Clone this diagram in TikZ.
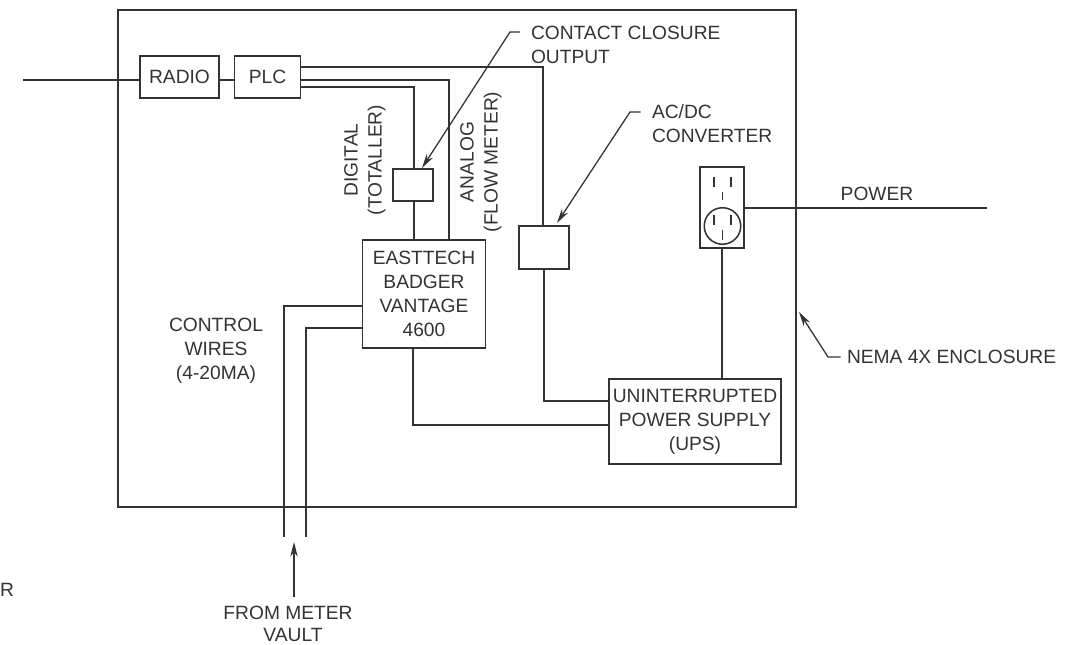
\documentclass[tikz,border=0pt]{standalone}
\usepackage{fontspec}
\setmainfont{Liberation Sans}
\usetikzlibrary{arrows.meta}
\definecolor{ink}{HTML}{333333}
\tikzset{
  x=0.75pt,y=-0.75pt,
  wire/.style={draw=ink,line width=1.15pt,line join=miter},
  thin wire/.style={draw=ink,line width=0.9pt},
  box/.style={draw=ink,line width=1.15pt,inner sep=0pt,outer sep=0pt,align=center,text=ink,
    font=\fontsize{14.4}{18}\selectfont},
  lbl/.style={inner sep=0pt,outer sep=0pt,text=ink,font=\fontsize{14.4}{18}\selectfont},
  pointer/.style={draw=ink,line width=0.95pt,-{Stealth[length=11pt,width=5.5pt]}},
}
\begin{document}
\begin{tikzpicture}
\useasboundingbox (0,0) rectangle (1068,645);
% enclosure
\node[box,minimum width=678*0.75pt,minimum height=497*0.75pt] (encl) at (457,258.5) {};
% boxes
\node[box,minimum width=79*0.75pt,minimum height=42*0.75pt] (radio) at (179.5,77) {RADIO};
\node[box,minimum width=66*0.75pt,minimum height=42*0.75pt] (plc) at (267.5,77) {PLC};
\node[box,minimum width=40*0.75pt,minimum height=32*0.75pt] (contact) at (413,185) {};
\node[box,minimum width=123*0.75pt,minimum height=108*0.75pt] (east) at (424,294) {EASTTECH\\BADGER\\VANTAGE\\4600};
\node[box,minimum width=50*0.75pt,minimum height=43*0.75pt] (conv) at (544,247.5) {};
\node[box,minimum width=172*0.75pt,minimum height=85*0.75pt] (ups) at (695,421.5) {UNINTERRUPTED\\POWER SUPPLY\\(UPS)};
\node[box,minimum width=44*0.75pt,minimum height=81*0.75pt] (outlet) at (722,207.5) {};
\node[draw=ink,line width=1.15pt,circle,inner sep=0pt,outer sep=0pt,minimum size=36.5*0.75pt] (socket) at (722.5,226) {};
% outlet slots
\coordinate (s1a) at (714,177); \coordinate (s1b) at (714,187);
\coordinate (s2a) at (731,177); \coordinate (s2b) at (731,187);
\coordinate (s3a) at (722.5,192); \coordinate (s3b) at (722.5,200);
\coordinate (s4a) at (714,215); \coordinate (s4b) at (714,225);
\coordinate (s5a) at (731,215); \coordinate (s5b) at (731,225);
\coordinate (s6a) at (722.5,230); \coordinate (s6b) at (722.5,240);
\draw[thin wire] (s1a)--(s1b) (s2a)--(s2b) (s3a)--(s3b) (s4a)--(s4b) (s5a)--(s5b) (s6a)--(s6b);
% labels
\node[lbl,align=left,anchor=west] (lcontact) at (531,45) {CONTACT CLOSURE\\OUTPUT};
\node[lbl,align=left,anchor=west] (lac) at (652,123.5) {AC/DC\\CONVERTER};
\node[lbl] (lpower) at (877,194) {POWER};
\node[lbl,anchor=west] (lnema) at (847,357) {NEMA 4X ENCLOSURE};
\node[lbl,align=center] (lcontrol) at (216,351) {CONTROL\\WIRES\\(4-20MA)};
\node[lbl] (lfrom) at (288,613) {FROM METER};
\node[lbl] (lvault) at (293,635) {VAULT};
\node[lbl,align=center,rotate=90] (ldig) at (365,160) {DIGITAL\\(TOTALLER)};
\node[lbl,align=center,rotate=90] (lana) at (481,162) {ANALOG\\(FLOW METER)};
\node[lbl,anchor=west] (lr) at (0,590) {R};
% wiring
\coordinate (in) at (23,80);
\draw[wire] (in) -- (radio.west |- in);
\draw[wire] (radio.east |- in) -- (plc.west |- in);
\coordinate (p1) at (543,67);
\coordinate (p2) at (449,80);
\coordinate (p3) at (414,87);
\draw[wire] (plc.east |- p1) -- (p1) -- (conv.north -| p1);
\draw[wire] (plc.east |- p2) -- (p2) -- (east.north -| p2);
\draw[wire] (plc.east |- p3) -- (p3) -- (contact.north -| p3);
\draw[wire] (contact.south -| p3) -- (east.north -| p3);
\coordinate (c1) at (284,306); \coordinate (c1e) at (284,537);
\coordinate (c2) at (306,328); \coordinate (c2e) at (306,537);
\draw[wire] (east.west |- c1) -- (c1) -- (c1e);
\draw[wire] (east.west |- c2) -- (c2) -- (c2e);
\coordinate (u1) at (544,401);
\coordinate (u2) at (413,425);
\draw[wire] (conv.south -| u1) -- (u1) -- (ups.west |- u1);
\draw[wire] (east.south -| u2) -- (u2) -- (ups.west |- u2);
\draw[wire] (outlet.south) -- (ups.north -| outlet.south);
\coordinate (pw) at (987,208);
\draw[wire] (outlet.east |- pw) -- (pw);
% pointers
\coordinate (a1) at (520,32); \coordinate (a2) at (510,32); \coordinate (a3) at (422,168);
\draw[pointer] (a1) -- (a2) -- (a3);
\coordinate (b1) at (640.5,112); \coordinate (b2) at (630,112); \coordinate (b3) at (557,223);
\draw[pointer] (b1) -- (b2) -- (b3);
\coordinate (d1) at (840.5,357); \coordinate (d2) at (828,357); \coordinate (d3) at (799,312);
\draw[pointer] (d1) -- (d2) -- (d3);
\coordinate (v1) at (294,597); \coordinate (v2) at (294,542);
\draw[pointer] (v1) -- (v2);
\end{tikzpicture}
\end{document}
